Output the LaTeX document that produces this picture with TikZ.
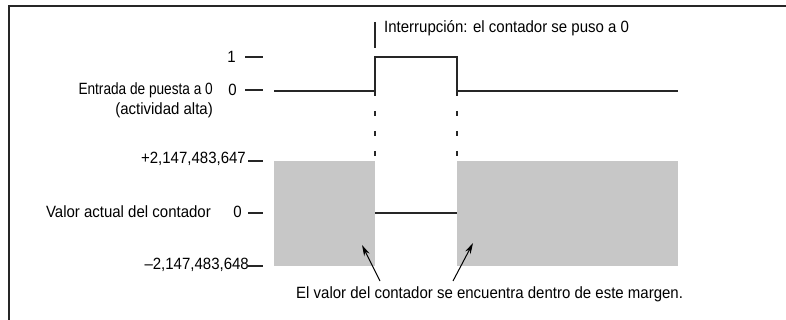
\documentclass[tikz,border=0pt]{standalone}
\usepackage{fontspec}
\setmainfont{Liberation Sans}[FakeStretch=0.92]
\usetikzlibrary{arrows.meta}
\tikzset{
  lbl/.style={inner sep=0pt, font=\fontsize{16.3}{18}\selectfont},
  wave/.style={line width=1.4pt, black!85},
  tick/.style={line width=1.3pt, black!85},
  guide/.style={line width=1.3pt, black!85, dash pattern=on 5pt off 15pt},
  band/.style={fill=black!22, draw=none},
  ptr/.style={line width=1pt, -{Stealth[length=11pt,width=6pt]}},
}
\begin{document}
\begin{tikzpicture}[x=1pt,y=-1pt]
\useasboundingbox (0,0) rectangle (786,320);
% frame
\draw[line width=2pt, black!85] (9,320) -- (9,6) -- (786,6);
% waveform coordinates
\coordinate (w0) at (274,91);
\coordinate (r0) at (375,91);
\coordinate (r1) at (375,57);
\coordinate (f1) at (457,57);
\coordinate (f0) at (457,91);
\coordinate (w1) at (678,91);
\draw[wave] (w0) -- (r0) -- (r1) -- (f1) -- (f0) -- (w1);
% interrupt marker
\coordinate (im0) at (375,22);
\coordinate (im1) at (375,48);
\draw[tick] (im0) -- (im1);
\node[lbl, anchor=west] (intr) at (384,28) {Interrupción: el contador se puso a 0};
% guides
\coordinate (g0) at (375,161);
\coordinate (g1) at (457,161);
\draw[guide] (r0) -- (g0);
\draw[guide] (f0) -- (g1);
% bands
\path[band] (274,161) rectangle (375,266);
\path[band] (457,161) rectangle (678,266);
\coordinate (z0) at (375,213);
\coordinate (z1) at (457,213);
\draw[wave] (z0) -- (z1);
% axis labels upper
\node[lbl, anchor=east] (one) at (236,57) {1};
\draw[tick] (245,57) -- (263,57);
\node[lbl, anchor=east] (zero) at (237,90) {0};
\draw[tick] (245,90) -- (263,90);
\node[lbl, anchor=east] (ent) at (213,90) {\scalebox{0.91}[1]{Entrada de puesta a 0}};
\node[lbl, anchor=east] (act) at (213,110) {(actividad alta)};
% axis labels lower
\node[lbl, anchor=east] (pmax) at (246,159) {+2,147,483,647};
\draw[tick] (248,161) -- (263,161);
\node[lbl, anchor=east] (vz) at (242,212) {0};
\draw[tick] (248,213) -- (263,213);
\node[lbl, anchor=east] (val) at (211,212) {Valor actual del contador};
\node[lbl, anchor=east] (pmin) at (249,265) {–2,147,483,648};
\draw[tick] (248,266) -- (263,266);
% note and arrows
\node[lbl, anchor=west] (note) at (296,294) {El valor del contador se encuentra dentro de este margen.};
\coordinate (a0) at (380,281);
\coordinate (a1) at (362,245);
\coordinate (b0) at (453,281);
\coordinate (b1) at (473,243);
\draw[ptr] (a0) -- (a1);
\draw[ptr] (b0) -- (b1);
\end{tikzpicture}
\end{document}
